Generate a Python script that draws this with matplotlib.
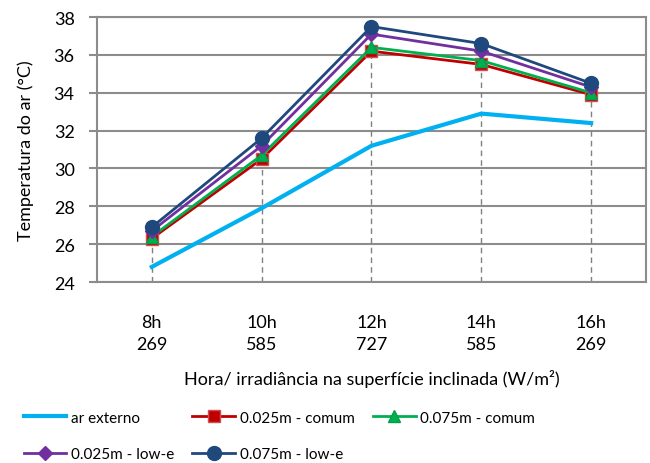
import matplotlib.pyplot as plt
import numpy as np

plt.rcParams['font.family'] = ['Lato', 'DejaVu Sans']

horas = ['8h', '10h', '12h', '14h', '16h']
irradiancia = ['269', '585', '727', '585', '269']

ar_externo = [24.8, 27.9, 31.2, 32.9, 32.4]
comum_025 = [26.3, 30.5, 36.2, 35.5, 33.9]
comum_075 = [26.4, 30.7, 36.4, 35.7, 34.0]
lowe_025 = [26.7, 31.2, 37.1, 36.2, 34.3]
lowe_075 = [26.9, 31.6, 37.5, 36.6, 34.5]

x = np.arange(len(horas))
grid_cor = '#8c8c8c'

fig = plt.figure(figsize=(6.5, 4.64), dpi=100)
ax = fig.add_axes([0.149, 0.39, 0.845, 0.571])

# linhas de chamada tracejadas a partir do ponto mais alto
topo = np.max([comum_025, comum_075, lowe_025, lowe_075, ar_externo], axis=0)
ax.vlines(x, 24, topo, colors='#808080', linestyles=(0, (4, 3)), linewidth=1, zorder=1)

l1, = ax.plot(x, ar_externo, color='#00B0F0', lw=3, zorder=3, label='ar externo')
l2, = ax.plot(x, comum_025, color='#C00000', lw=2, marker='s', ms=9,
              mfc='#C00000', mec='#D05050', zorder=4, label='0.025m - comum')
l3, = ax.plot(x, comum_075, color='#00B050', lw=2, marker='^', ms=9,
              mfc='#00B050', mec='#00A048', zorder=5, label='0.075m - comum')
l4, = ax.plot(x, lowe_025, color='#7030A0', lw=2, marker='D', ms=7,
              mfc='#7030A0', mec='#7030A0', zorder=6, label='0.025m - low-e')
l5, = ax.plot(x, lowe_075, color='#1F497D', lw=2, marker='o', ms=10,
              mfc='#1F497D', mec='#1F497D', zorder=7, label='0.075m - low-e')

ax.set_xlim(-0.5, 4.5)
ax.set_ylim(24, 38)
ax.set_yticks(np.arange(24, 39, 2))
ax.set_xticks(x)
ax.set_xticklabels([h + '\n' + r for h, r in zip(horas, irradiancia)], linespacing=1.45)
ax.tick_params(axis='x', length=0, pad=23, labelsize=13)
ax.tick_params(axis='y', length=6, width=1.5, color=grid_cor, labelsize=13, pad=10)
ax.yaxis.grid(True, color=grid_cor, linewidth=1.5)
ax.set_axisbelow(True)
for s in ax.spines.values():
    s.set_color(grid_cor)
    s.set_linewidth(1.5)

ax.set_ylabel('Temperatura do ar (°C)', fontsize=13, labelpad=14)
ax.set_xlabel('Hora/ irradiância na superfície inclinada (W/m²)', fontsize=13, labelpad=12)

# ordem para preencher as linhas da legenda
handles = [l1, l4, l2, l5, l3]
fig.legend(handles, [h.get_label() for h in handles], ncol=3, loc='lower left',
           bbox_to_anchor=(0.015, -0.025), frameon=False, fontsize=11,
           handlelength=2.8, handletextpad=0.3, columnspacing=1.2, labelspacing=1.45)

fig.savefig('out.png', dpi=100)
